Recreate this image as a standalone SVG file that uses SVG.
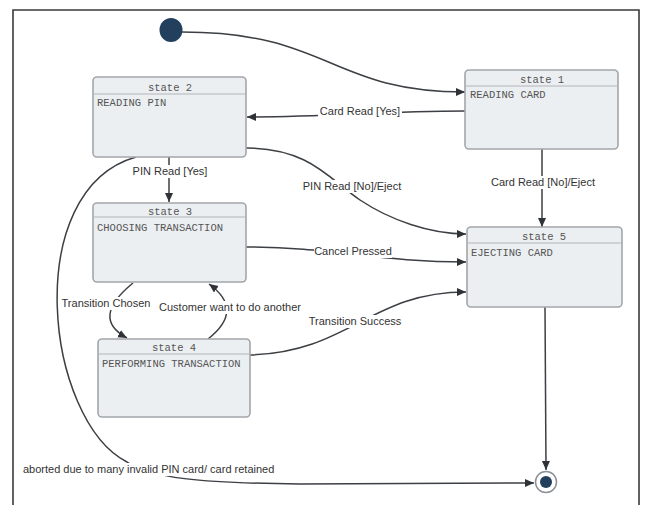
<svg xmlns="http://www.w3.org/2000/svg" width="647" height="505" viewBox="0 0 647 505">
<style>
.frame{fill:none;stroke:#3a3a3a;stroke-width:1.6}
.box{fill:#eceff2;stroke:#a2a6ab;stroke-width:1.6}
.sep{stroke:#b0b4b8;stroke-width:1}
.title{font-family:"Liberation Mono",monospace;font-size:10.5px;fill:#555;text-anchor:middle}
.body{font-family:"Liberation Mono",monospace;font-size:10.5px;fill:#555}
.edge{fill:none;stroke:#3c3f44;stroke-width:1.5}
.lbl{font-family:"Liberation Sans",Arial,sans-serif;font-size:11px;fill:#333}
.bg{fill:#fff}
</style>
<defs>
<marker id="arr" markerUnits="userSpaceOnUse" markerWidth="10" markerHeight="10" refX="9" refY="5" orient="auto">
<path d="M0,1 L9,5 L0,9 Z" fill="#2f3338"/>
</marker>
</defs>
<rect width="647" height="505" fill="#fff"/>
<path class="frame" d="M13,506 V10 H639 V506"/>

<g id="connectors">
<path class="edge" marker-end="url(#arr)" d="M182,32 C330,32 330,92 465,92"/>
<path class="edge" marker-end="url(#arr)" d="M465,111 C380,111 330,117 247,117"/>
<path class="edge" marker-end="url(#arr)" d="M169,157 L169,202"/>
<path class="edge" marker-end="url(#arr)" d="M246,148 C310,148 330,180 360,200 C390,220 430,234 466,234"/>
<path class="edge" marker-end="url(#arr)" d="M542,149 L542,227"/>
<path class="edge" marker-end="url(#arr)" d="M246,247 C330,247 380,262 466,262"/>
<path class="edge" marker-end="url(#arr)" d="M133,283 Q90,318 127,338"/>
<path class="edge" marker-end="url(#arr)" d="M208,339 Q245,310 209,284"/>
<path class="edge" marker-end="url(#arr)" d="M250,355 C350,352 370,292 466,292"/>
<path class="edge" marker-end="url(#arr)" d="M545,307 L546,470"/>
<path class="edge" marker-end="url(#arr)" d="M136,157 C20,190 45,420 127,462 C150,478 200,483 300,484 L534,483"/>
</g>

<g id="labels">
<rect class="bg" x="318" y="105" width="84" height="13"/>
<text class="lbl" x="360" y="115" text-anchor="middle">Card Read [Yes]</text>
<rect class="bg" x="132" y="165" width="76" height="13"/>
<text class="lbl" x="170" y="175" text-anchor="middle">PIN Read [Yes]</text>
<rect class="bg" x="302" y="180" width="100" height="13"/>
<text class="lbl" x="352" y="190" text-anchor="middle">PIN Read [No]/Eject</text>
<rect class="bg" x="490" y="176" width="106" height="13"/>
<text class="lbl" x="543" y="186" text-anchor="middle">Card Read [No]/Eject</text>
<rect class="bg" x="314" y="245" width="78" height="13"/>
<text class="lbl" x="353" y="255" text-anchor="middle">Cancel Pressed</text>
<rect class="bg" x="60" y="297" width="93" height="13"/>
<text class="lbl" x="106" y="307" text-anchor="middle">Transition Chosen</text>
<rect class="bg" x="154" y="301" width="152" height="13"/>
<text class="lbl" x="230" y="311" text-anchor="middle">Customer want to do another</text>
<rect class="bg" x="308" y="315" width="95" height="13"/>
<text class="lbl" x="355" y="325" text-anchor="middle">Transition Success</text>
<rect class="bg" x="21" y="463" width="264" height="13"/>
<text class="lbl" x="23" y="473">aborted due to many invalid PIN card/ card retained</text>
</g>

<g id="start">
<ellipse cx="171" cy="30" rx="11.5" ry="12" fill="#233f5e"/>
</g>

<g id="state1">
<rect class="box" x="465" y="70" width="153" height="79" rx="4"/>
<line class="sep" x1="466" y1="86" x2="617" y2="86"/>
<text class="title" x="542" y="83">state 1</text>
<text class="body" x="470" y="98">READING CARD</text>
</g>

<g id="state2">
<rect class="box" x="93" y="77" width="153" height="80" rx="4"/>
<line class="sep" x1="94" y1="94" x2="245" y2="94"/>
<text class="title" x="170" y="91">state 2</text>
<text class="body" x="97" y="106">READING PIN</text>
</g>

<g id="state3">
<rect class="box" x="93" y="203" width="153" height="79" rx="4"/>
<line class="sep" x1="94" y1="217" x2="245" y2="217"/>
<text class="title" x="170" y="215">state 3</text>
<text class="body" x="97" y="231">CHOOSING TRANSACTION</text>
</g>

<g id="state4">
<rect class="box" x="98" y="339" width="152" height="78" rx="4"/>
<line class="sep" x1="99" y1="354" x2="249" y2="354"/>
<text class="title" x="174" y="351">state 4</text>
<text class="body" x="102" y="367">PERFORMING TRANSACTION</text>
</g>

<g id="state5">
<rect class="box" x="467" y="227" width="155" height="80" rx="4"/>
<line class="sep" x1="468" y1="243" x2="621" y2="243"/>
<text class="title" x="544" y="240">state 5</text>
<text class="body" x="471" y="256">EJECTING CARD</text>
</g>

<g id="end">
<circle cx="546" cy="482" r="10.5" fill="#fff" stroke="#8a9097" stroke-width="1.5"/>
<circle cx="546" cy="482" r="6" fill="#233f5e"/>
</g>
</svg>
